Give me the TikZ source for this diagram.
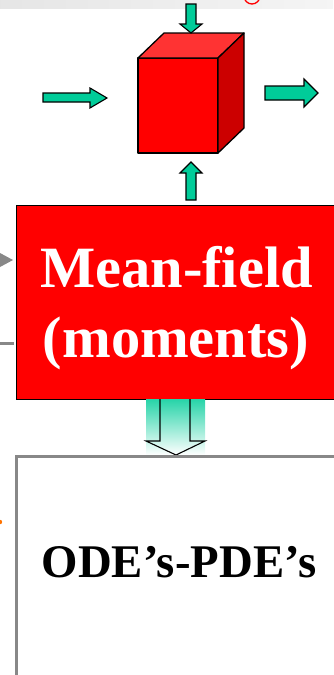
\documentclass[tikz,border=0pt]{standalone}
\usepackage{fontspec}
\setmainfont{Liberation Serif}
\usetikzlibrary{calc}
\definecolor{teal1}{RGB}{0,204,153}
\definecolor{redA}{RGB}{255,0,0}
\definecolor{redTop}{RGB}{255,51,51}
\definecolor{redSide}{RGB}{204,0,0}
\definecolor{grayB}{RGB}{136,136,136}
\tikzset{
  blockarrow/.style={fill=teal1,draw=black,line width=1.1pt,line join=miter},
  cubeface/.style={draw=black,line width=1.3pt,line join=round},
}
\begin{document}
\begin{tikzpicture}[x=1pt,y=-1pt]
\useasboundingbox (0,0) rectangle (333,675);
% top band
\shade[left color=black!10,right color=black!4] (0,0) rectangle (333,8);
\begin{scope}
\clip (0,0) rectangle (333,4);
\draw[red,line width=1.3pt] (252,-4) circle (8);
\end{scope}
% cube
\coordinate (cA) at (138,58);
\coordinate (cB) at (218,58);
\coordinate (cC) at (218,153);
\coordinate (cD) at (138,153);
\coordinate (cE) at (164,33);
\coordinate (cF) at (244,33);
\coordinate (cG) at (244,128);
\filldraw[cubeface,fill=redA] (cA) -- (cB) -- (cC) -- (cD) -- cycle;
\filldraw[cubeface,fill=redTop] (cA) -- (cE) -- (cF) -- (cB) -- cycle;
\filldraw[cubeface,fill=redSide] (cB) -- (cF) -- (cG) -- (cC) -- cycle;
% arrows around cube
\filldraw[blockarrow] (186,4) -- (196,4) -- (196,24) -- (202,24) -- (191,33) -- (180,24) -- (186,24) -- cycle;
\filldraw[blockarrow] (43,93) -- (90,93) -- (90,88) -- (107,98) -- (90,108) -- (90,102) -- (43,102) -- cycle;
\filldraw[blockarrow] (265,86) -- (304,86) -- (304,79) -- (318,93) -- (304,107) -- (304,100) -- (265,100) -- cycle;
\filldraw[blockarrow] (186,200) -- (186,173) -- (180,173) -- (191,162) -- (202,173) -- (196,173) -- (196,200) -- cycle;
% left side fragments
\fill[grayB] (0,253) -- (13,260) -- (0,267) -- cycle;
\draw[grayB,line width=3pt] (0,343) -- (14,343);
\fill[orange!90!red] (0,522) circle (2.2);
% mean-field box
\node[draw=black,line width=1.4pt,fill=redA,minimum width=330pt,minimum height=194pt,anchor=north west,inner sep=0pt] (mf) at (16,205) {};
\node[anchor=base,text=white,font=\bfseries\fontsize{58.5}{70}\selectfont,inner sep=0pt] (mf1) at (176.5,287) {Mean-field};
\node[anchor=base,text=white,font=\bfseries\fontsize{58.5}{70}\selectfont,inner sep=0pt] (mf2) at (176,357) {(moments)};
% hollow down arrow
\shade[top color=teal1!85,middle color=teal1!22,bottom color=white] (146,399) rectangle (205,455);
\draw[black,line width=1.1pt,line join=miter] (160,399) -- (160,441) -- (146,441) -- (176,455) -- (205,441) -- (190,441) -- (190,399);
% ODE box
\node[draw=grayB,line width=3pt,fill=white,minimum width=340pt,minimum height=240pt,anchor=north west,inner sep=0pt] (ode) at (15,455) {};
\node[anchor=base,text=black,font=\bfseries\fontsize{46.8}{56}\selectfont,inner sep=0pt] (odet) at (179,577) {ODE’s-PDE’s};
\end{tikzpicture}
\end{document}
